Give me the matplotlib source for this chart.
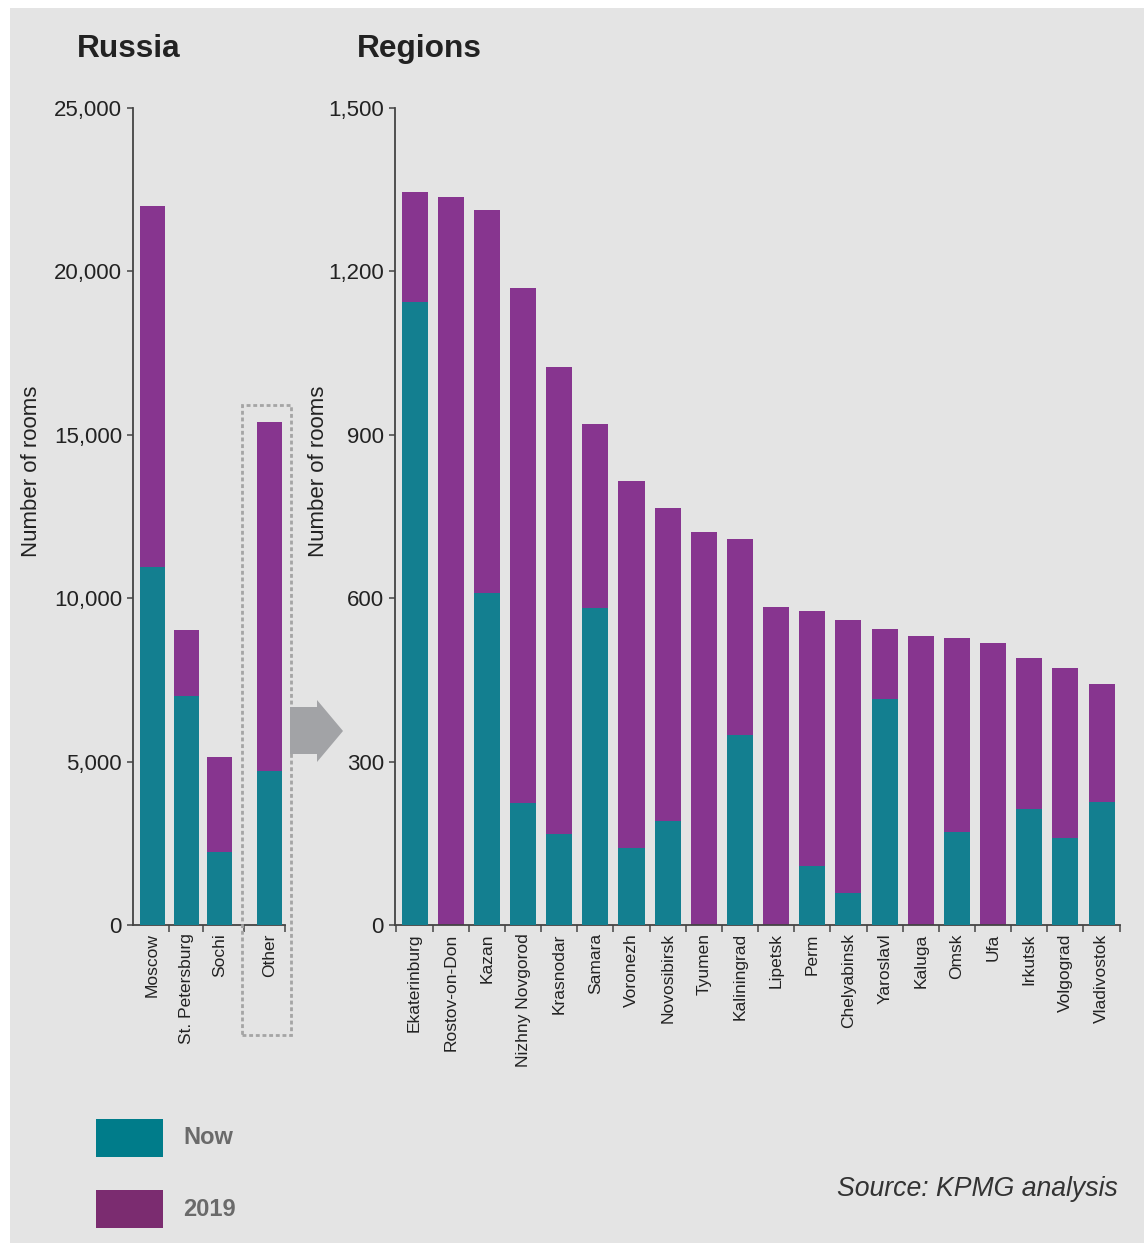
import matplotlib
matplotlib.use("Agg")
import matplotlib.pyplot as plt
from matplotlib.patches import Rectangle, Polygon
from matplotlib.ticker import FuncFormatter

plt.rcParams["font.family"] = ["Liberation Sans", "DejaVu Sans"]

# Hotel room stock: Russia overview
russia_cats = ["Moscow", "St. Petersburg", "Sochi", "Other"]
russia_now = [10950, 7000, 2240, 4720]
russia_2019 = [22000, 9030, 5130, 15380]

# Regional breakdown of "Other"
region_cats = ["Ekaterinburg", "Rostov-on-Don", "Kazan", "Nizhny Novgorod", "Krasnodar",
               "Samara", "Voronezh", "Novosibirsk", "Tyumen", "Kaliningrad", "Lipetsk",
               "Perm", "Chelyabinsk", "Yaroslavl", "Kaluga", "Omsk", "Ufa", "Irkutsk",
               "Volgograd", "Vladivostok"]
region_now = [1144, 0, 610, 224, 167, 582, 141, 191, 0, 349, 0, 108, 59, 415, 0, 171, 0,
              213, 160, 226]
region_2019 = [1345, 1337, 1312, 1169, 1024, 920, 815, 766, 721, 709, 584, 576, 560, 543,
               531, 527, 518, 490, 472, 442]

russia_ticks = [0, 5000, 10000, 15000, 20000, 25000]
region_ticks = [0, 300, 600, 900, 1200, 1500]

TEAL = "#137f90"
PURPLE = "#87358f"
BG = "#e4e4e4"
AXC = "#444444"
TXT = "#222222"

W, H = 1144, 1243
fig = plt.figure(figsize=(W / 100, H / 100), dpi=100)
fig.patch.set_facecolor("white")
fig.patches.append(Rectangle((10 / W, 0), 1 - 10 / W, 1 - 8 / H, transform=fig.transFigure,
                             facecolor=BG, edgecolor="none", zorder=-10))


def fx(px):
    return px / W


def fy(py):
    return 1 - py / H


ax1 = fig.add_axes([fx(133), fy(925), fx(285) - fx(133), fy(108) - fy(925)])
ax2 = fig.add_axes([fx(395), fy(925), fx(1120) - fx(395), fy(108) - fy(925)])

russia_pos = [0, 1, 2, 3.47]
region_pos = list(range(len(region_cats)))


def style_axis(ax, pos, labels, yticks, ylim, xlim, bounds):
    ax.set_facecolor("none")
    for s in ["top", "right"]:
        ax.spines[s].set_visible(False)
    for s in ["left", "bottom"]:
        ax.spines[s].set_color(AXC)
        ax.spines[s].set_linewidth(1.3)
    ax.set_xlim(*xlim)
    ax.set_ylim(*ylim)
    ax.set_yticks(yticks)
    ax.yaxis.set_major_formatter(FuncFormatter(lambda v, p: f"{int(v):,}"))
    ax.tick_params(axis="y", direction="out", length=4, width=1.1, color=AXC,
                   labelsize=16, labelcolor=TXT, pad=4)
    ax.set_xticks(pos)
    ax.set_xticklabels(labels, rotation=90, fontsize=12.5, color=TXT)
    ax.tick_params(axis="x", which="major", length=0, pad=6)
    ax.set_xticks(bounds, minor=True)
    ax.tick_params(axis="x", which="minor", direction="out", length=5, width=1.1, color=AXC)
    ax.set_ylabel("Number of rooms", fontsize=16, color=TXT)


# Russia: 2019 totals behind, current stock in front
ax1.bar(russia_pos, russia_2019, width=0.74, color=PURPLE, edgecolor="none", zorder=2)
ax1.bar(russia_pos, russia_now, width=0.74, color=TEAL, edgecolor="none", zorder=3)
style_axis(ax1, russia_pos, russia_cats, russia_ticks, (0, 25000), (-0.58, 3.93),
           [0.5, 1.5, 2.71, 3.92])
ax1.yaxis.set_label_coords((32 - 133) / 152, (925 - 471) / 817)
ax1.yaxis.label.set_va("center")

# Regions
ax2.bar(region_pos, region_2019, width=0.72, color=PURPLE, edgecolor="none", zorder=2)
ax2.bar(region_pos, region_now, width=0.72, color=TEAL, edgecolor="none", zorder=3)
style_axis(ax2, region_pos, region_cats, region_ticks, (0, 1500), (-0.54, 19.51),
           [k + 0.5 for k in range(-1, 20)])
ax2.yaxis.set_label_coords((319 - 395) / 725, (925 - 471) / 817)
ax2.yaxis.label.set_va("center")

# Panel titles
fig.text(fx(77), fy(57), "Russia", fontsize=22.8, fontweight="bold", color=TXT, va="baseline")
fig.text(fx(357), fy(57), "Regions", fontsize=22.8, fontweight="bold", color=TXT, va="baseline")

# Dashed frame around "Other" and arrow pointing to regional breakdown
fig.patches.append(Rectangle((fx(242), fy(1035)), fx(291) - fx(242), fy(405) - fy(1035),
                             transform=fig.transFigure, facecolor="none",
                             edgecolor="#a5a5a5", linewidth=2.0,
                             linestyle=(0, (1.4, 1.0)), zorder=5))
arrow_px = [(290, 707), (317, 707), (317, 700), (343, 731), (317, 762), (317, 754), (290, 754)]
fig.patches.append(Polygon([(fx(x), fy(y)) for x, y in arrow_px], closed=True,
                           transform=fig.transFigure, facecolor="#a2a3a6",
                           edgecolor="none", zorder=5))

# Legend
fig.patches.append(Rectangle((fx(96), fy(1157)), fx(163) - fx(96), fy(1119) - fy(1157),
                             transform=fig.transFigure, facecolor="#007c8a", edgecolor="none"))
fig.patches.append(Rectangle((fx(96), fy(1228)), fx(163) - fx(96), fy(1190) - fy(1228),
                             transform=fig.transFigure, facecolor="#7b2c70", edgecolor="none"))
fig.text(fx(183), fy(1138), "Now", fontsize=17, fontweight="bold", color="#6a6a6a",
         va="center")
fig.text(fx(183), fy(1209), "2019", fontsize=17, fontweight="bold", color="#6a6a6a",
         va="center")

# Source note
fig.text(fx(1118), fy(1196), "Source: KPMG analysis", fontsize=19.2, style="italic",
         color="#333333", ha="right", va="baseline")

fig.savefig("out.png", dpi=100, facecolor=fig.get_facecolor())
